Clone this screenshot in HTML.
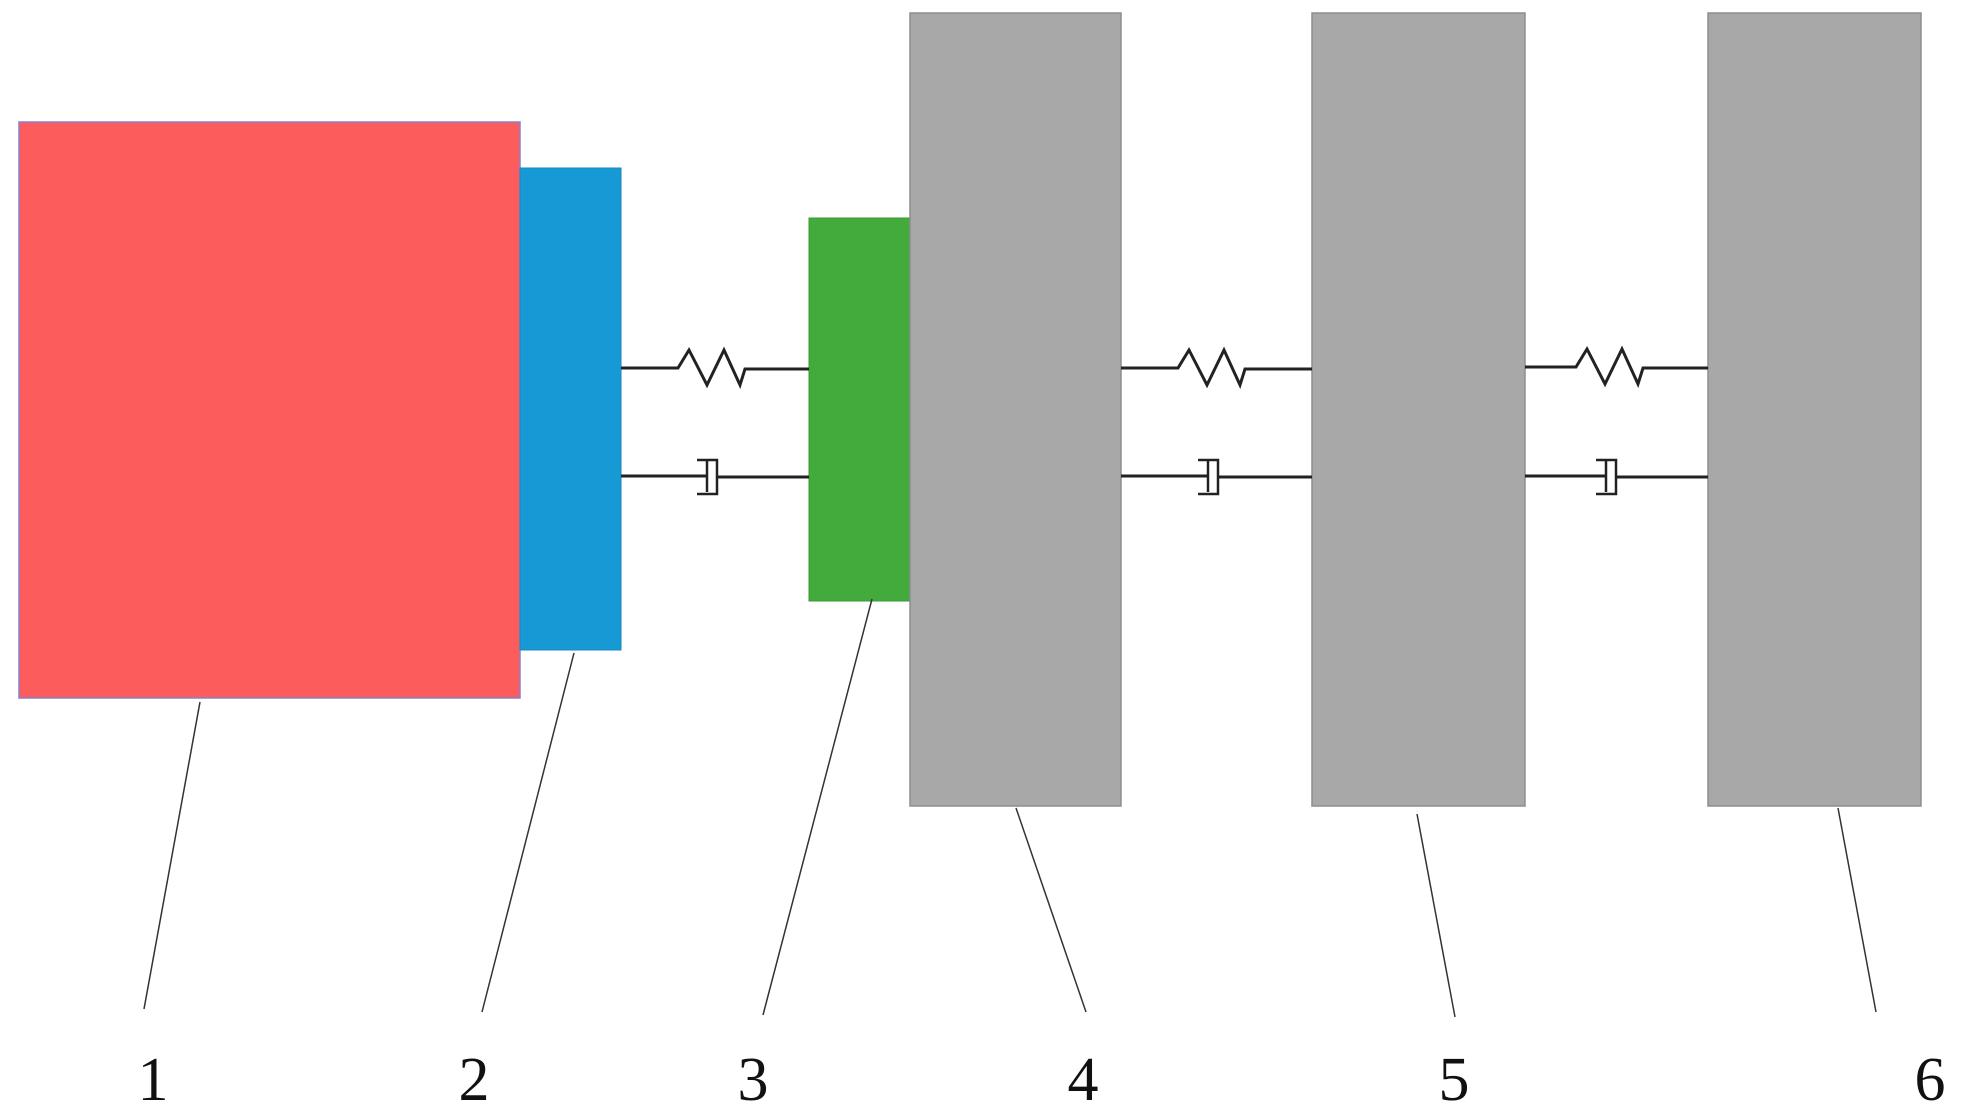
<!DOCTYPE html>
<html><head><meta charset="utf-8"><style>
html,body{margin:0;padding:0;background:#fff;width:1965px;height:1117px;overflow:hidden}
</style></head><body>
<svg width="1965" height="1117" viewBox="0 0 1965 1117" xmlns="http://www.w3.org/2000/svg">
<rect x="19" y="122" width="501" height="576" fill="#fd5c5c" stroke="#8a7fd0" stroke-width="1.5"/>
<rect x="520" y="168" width="101" height="482" fill="#1799d6" stroke="#1a88c0" stroke-width="1"/>
<rect x="809" y="218" width="101" height="383" fill="#43ab3b" stroke="#3a9a33" stroke-width="1"/>
<rect x="910" y="13" width="211" height="793" fill="#a8a8a8" stroke="#8e8e8e" stroke-width="1.5"/>
<rect x="1312" y="13" width="213" height="793" fill="#a8a8a8" stroke="#8e8e8e" stroke-width="1.5"/>
<rect x="1708" y="13" width="213" height="793" fill="#a8a8a8" stroke="#8e8e8e" stroke-width="1.5"/>
<g fill="none" stroke="#222" stroke-width="3">
<polyline points="621,368 678,368 689,350 707,385 724,350 740,385 745,369 809,369"/>
<polyline points="1121,368 1178,368 1189,350 1207,385 1224,350 1240,385 1245,369 1312,369"/>
<polyline points="1525,367 1576,367 1587,349 1605,384 1622,349 1638,384 1643,368 1708,368"/>
<line x1="621" y1="476" x2="707" y2="476"/><line x1="717" y1="477" x2="809" y2="477"/>
<line x1="1121" y1="476" x2="1208" y2="476"/><line x1="1218" y1="477" x2="1312" y2="477"/>
<line x1="1525" y1="476" x2="1606" y2="476"/><line x1="1616" y1="477" x2="1708" y2="477"/>
</g>
<g fill="none" stroke="#222" stroke-width="2.5">
<line x1="707" y1="461" x2="707" y2="492"/><polyline points="697,460 717,460 717,494 697,494"/>
<line x1="1208" y1="461" x2="1208" y2="492"/><polyline points="1198,460 1218,460 1218,494 1198,494"/>
<line x1="1606" y1="461" x2="1606" y2="492"/><polyline points="1596,460 1616,460 1616,494 1596,494"/>
</g>
<g stroke="#333" stroke-width="1.5">
<line x1="200" y1="702" x2="144" y2="1009"/>
<line x1="574" y1="653" x2="482" y2="1012"/>
<line x1="872" y1="599" x2="763" y2="1015"/>
<line x1="1016" y1="808" x2="1086" y2="1012"/>
<line x1="1417" y1="814" x2="1455" y2="1017"/>
<line x1="1838" y1="808" x2="1876" y2="1012"/>
</g>
<g font-family="Liberation Serif, serif" font-size="62" fill="#111" text-anchor="middle">
<text x="153" y="1100">1</text>
<text x="474" y="1100">2</text>
<text x="753" y="1100">3</text>
<text x="1083" y="1100">4</text>
<text x="1454" y="1100">5</text>
<text x="1930" y="1100">6</text>
</g>
</svg>
</body></html>
